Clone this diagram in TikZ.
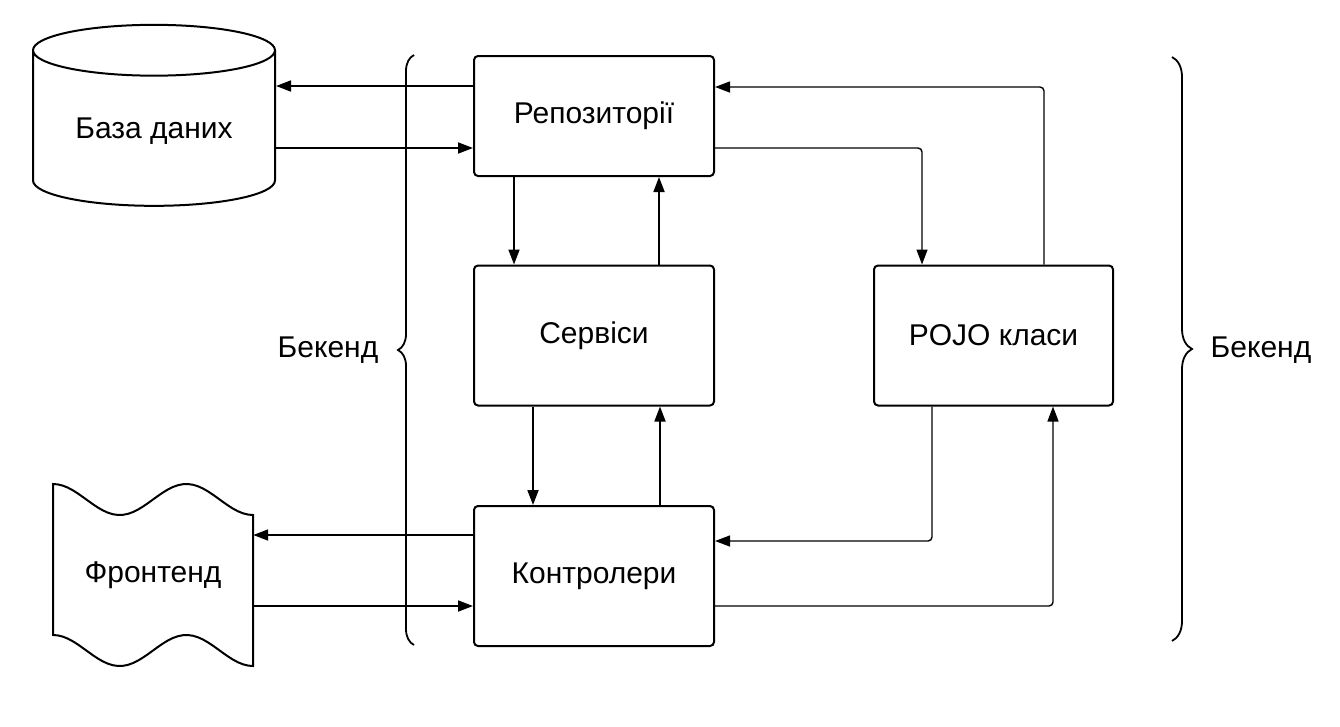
\documentclass[tikz,border=0pt]{standalone}
\usepackage{fontspec}
\setmainfont{Liberation Sans}
\usetikzlibrary{arrows.meta,positioning,shapes.geometric,decorations.pathreplacing}

\begin{document}
\begin{tikzpicture}[x=1pt,y=-1pt,node distance=2cm,on grid,
    every node/.style={font=\fontsize{30}{36}\selectfont},
    box/.style={draw,line width=2pt,rounded corners=4pt,minimum width=240pt,minimum height=140pt},
    store/.style={draw,line width=2pt,cylinder,shape border rotate=90,aspect=0.31,minimum width=242pt,minimum height=181pt},
    arr/.style={-{Triangle[length=15pt,width=11pt]},line width=1.8pt},
    link/.style={arr,line width=1.4pt,rounded corners=4pt},
    bracket/.style={decorate,decoration={brace,amplitude=#1},line width=1.8pt}]
  \useasboundingbox (0,0) rectangle (1340,726);

  \node[box,minimum height=120pt] (repo) at (594,116) {Репозиторії};
  \node[box] (serv) [below=219.5pt of repo] {Сервіси};
  \node[box] (ctrl) [below=240.5pt of serv] {Контролери};
  \node[box,minimum width=239pt] (pojo) [right=399.5pt of serv] {POJO класи};
  \node[store] (base) at (154,131.5) {База даних};
  \node[minimum width=200pt,minimum height=151pt] (front) at (153,575) {Фронтенд};

  % frontend sheet
  \draw[line width=2pt] plot[domain=0:200,samples=41] ({53+\x},{499.5-15.5*cos(2.7*\x)})
    -- plot[domain=200:0,samples=41] ({53+\x},{650.5-15.5*cos(2.7*\x)}) -- cycle;

  % braces
  \draw[bracket=16pt] (414,645) -- (414,55);
  \draw[bracket=20pt] (1172,57) -- (1172,641);
  \node (lbk) at (328,350) {Бекенд};
  \node (rbk) at (1261,350) {Бекенд};

  \path[arr]
    (repo.west |- 0,86) edge (base.east |- 0,86)
    (base.east |- 0,148) edge (repo.west |- 0,148)
    (repo.south -| 514,0) edge (serv.north -| 514,0)
    (serv.north -| 659,0) edge (repo.south -| 659,0)
    (serv.south -| 533,0) edge (ctrl.north -| 533,0)
    (ctrl.north -| 660,0) edge (serv.south -| 660,0)
    (ctrl.west |- 0,535) edge (front.east |- 0,535)
    (front.east |- 0,606) edge (ctrl.west |- 0,606);

  \draw[link] (repo.east |- 0,148) -| (pojo.north -| 922,0);
  \draw[link] (pojo.north -| 1044,0) |- (repo.east |- 0,87);
  \draw[link] (pojo.south -| 932,0) |- (ctrl.east |- 0,541);
  \draw[link] (ctrl.east |- 0,606) -| (pojo.south -| 1053,0);
\end{tikzpicture}
\end{document}
